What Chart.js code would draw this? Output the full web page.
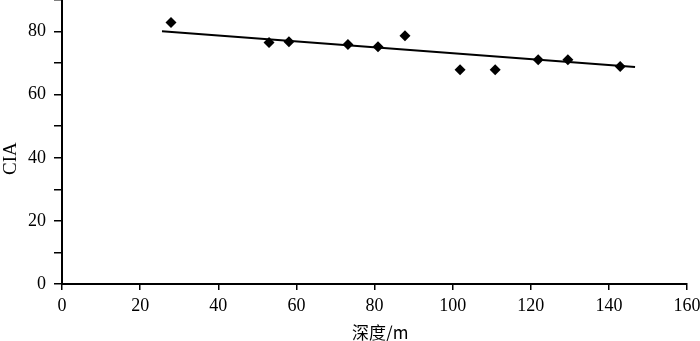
<!DOCTYPE html>
<html>
<head>
  <meta charset="utf-8">
  <script src="https://cdn.jsdelivr.net/npm/chart.js"></script>
  <style>
    html, body { margin: 0; padding: 0; background: #fff; }
    #wrap { width: 700px; height: 341px; position: relative; }
  </style>
</head>
<body>
  <div id="wrap"><canvas id="ciaChart"></canvas></div>
  <script>
// depth (m) and CIA of the samples
const depths = [27.9, 53.0, 58.1, 73.2, 80.9, 87.8, 101.9, 110.9, 121.9, 129.5, 142.9];
const ciaValues = [82.9, 76.5, 76.8, 75.9, 75.2, 78.7, 67.9, 67.9, 71.1, 71.1, 68.9];

// fitted line at both ends
const trendDepths = [25.6, 146.7];
const trendCia = [80.1, 68.8];

const xTicks = [0, 20, 40, 60, 80, 100, 120, 140, 160];
const yTicks = [0, 10, 20, 30, 40, 50, 60, 70, 80, 90];
const yLabelled = [0, 20, 40, 60, 80];

const serif = 'Liberation Serif, Times New Roman, serif';

const points = depths.map((d, i) => ({ x: d, y: ciaValues[i] }));
const trend = trendDepths.map((d, i) => ({ x: d, y: trendCia[i] }));

const ctx = document.getElementById('ciaChart').getContext('2d');
new Chart(ctx, {
  type: 'scatter',
  data: {
    datasets: [
      {
        label: 'CIA',
        data: points,
        pointStyle: 'rectRot',
        pointRadius: 5.5,
        pointHoverRadius: 5.5,
        backgroundColor: '#000',
        borderColor: '#000',
        borderWidth: 0
      },
      {
        label: 'trend',
        type: 'line',
        data: trend,
        borderColor: '#000',
        borderWidth: 2,
        pointRadius: 0,
        fill: false
      }
    ]
  },
  options: {
    responsive: true,
    maintainAspectRatio: false,
    animation: false,
    events: [],
    layout: { autoPadding: false, padding: { left: 0, right: 13, top: 0, bottom: 0 } },
    plugins: {
      legend: { display: false },
      tooltip: { enabled: false }
    },
    scales: {
      x: {
        type: 'linear',
        min: 0,
        max: 160,
        afterFit: s => { s.height = 57; s.paddingLeft = 0; s.paddingRight = 0; },
        afterBuildTicks: s => { s.ticks = xTicks.map(v => ({ value: v })); },
        grid: { drawOnChartArea: false, drawTicks: true, tickLength: 6, color: '#000', lineWidth: 1.5 },
        border: { display: true, color: '#000', width: 2 },
        ticks: { color: '#000', font: { family: serif, size: 18 }, padding: 5, maxRotation: 0 },
        // leading spaces nudge the title a little to the right, as in the original
        title: { display: true, text: '   深度/m', color: '#000', font: { family: '"Noto Sans CJK SC", ' + serif, size: 17 }, padding: { top: 0, bottom: -2 } }
      },
      y: {
        type: 'linear',
        min: 0,
        max: 90,
        afterFit: s => { s.width = 62; s.paddingTop = 0; s.paddingBottom = 0; },
        afterBuildTicks: s => { s.ticks = yTicks.map(v => ({ value: v })); },
        grid: { drawOnChartArea: false, drawTicks: true, tickLength: 8, color: '#000', lineWidth: 1.5 },
        border: { display: true, color: '#000', width: 2 },
        ticks: {
          color: '#000',
          font: { family: serif, size: 18 },
          padding: 8,
          callback: v => yLabelled.includes(v) ? String(v) : ''
        },
        // trailing spaces push the rotated title down a bit
        title: { display: true, text: 'CIA       ', color: '#000', font: { family: serif, size: 19 }, padding: { top: 0, bottom: 0 } }
      }
    }
  }
});
  </script>
</body>
</html>
